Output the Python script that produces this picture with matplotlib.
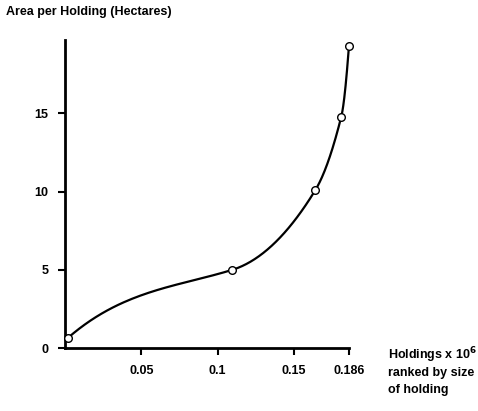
import numpy as np
from matplotlib import pyplot as plt

plt.rcParams['font.family'] = ['Liberation Sans', 'DejaVu Sans']
plt.rcParams['font.weight'] = 'bold'

# holdings (millions, ranked by size) vs area per holding (hectares)
holdings = [0.002, 0.1095, 0.164, 0.181, 0.186]
area = [0.66, 5.0, 10.1, 14.8, 19.3]
# tangent of the hand-drawn curve at each point (hectares per million holdings)
slopes = [85, 30, 160, 390, 1300]

xticks = [0.05, 0.1, 0.15, 0.186]
xticklabels = ['0.05', '0.1', '0.15', '0.186']
yticks = [0, 5, 10, 15]


def hermite(xs, ys, ds, n=60):
    cx, cy = [], []
    for k in range(len(xs) - 1):
        h = xs[k + 1] - xs[k]
        t = np.linspace(0, 1, n)
        h00 = 2 * t**3 - 3 * t**2 + 1
        h10 = t**3 - 2 * t**2 + t
        h01 = -2 * t**3 + 3 * t**2
        h11 = t**3 - t**2
        cx.append(xs[k] + t * h)
        cy.append(h00 * ys[k] + h10 * h * ds[k] + h01 * ys[k + 1] + h11 * h * ds[k + 1])
    return np.concatenate(cx), np.concatenate(cy)


fig = plt.figure(figsize=(4.78, 4.11), dpi=100)
ax = fig.add_axes([0.136, 0.153, 0.594, 0.75])

cx, cy = hermite(holdings, area, slopes)
ax.plot(cx, cy, color='black', lw=1.6, zorder=2, clip_on=False)
ax.plot(holdings, area, 'o', ms=5.5, mfc='white', mec='black', mew=1.0, zorder=3,
        clip_on=False)

ax.set_xlim(0, 0.186)
ax.set_ylim(0, 19.7)
ax.set_xticks(xticks)
ax.set_xticklabels(xticklabels)
ax.set_yticks(yticks)

for s in ['top', 'right']:
    ax.spines[s].set_visible(False)
for s in ['left', 'bottom']:
    ax.spines[s].set_linewidth(2)
ax.tick_params(axis='both', direction='out', length=5, width=1.5, labelsize=9)
ax.tick_params(axis='x', pad=7)
ax.tick_params(axis='y', pad=7)

fig.text(0.012, 0.97, 'Area per Holding (Hectares)', fontsize=9, fontweight='bold',
         ha='left', va='center')
fig.text(0.812, 0.136, 'Holdings x 10$^{6}$', fontsize=9, fontweight='bold',
         ha='left', va='center')
fig.text(0.812, 0.093, 'ranked by size', fontsize=9, fontweight='bold',
         ha='left', va='center')
fig.text(0.812, 0.051, 'of holding', fontsize=9, fontweight='bold',
         ha='left', va='center')

fig.savefig('out.png', dpi=100)
